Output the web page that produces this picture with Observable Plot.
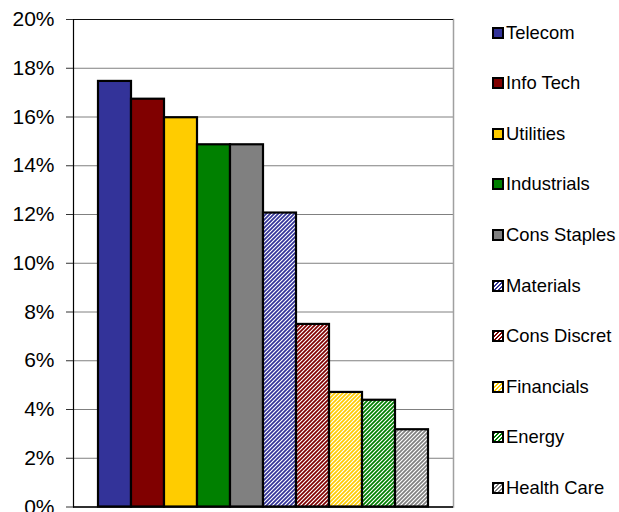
<!DOCTYPE html>
<html>
<head>
<meta charset="utf-8">
<script src="https://cdn.jsdelivr.net/npm/d3@7"></script>
<script src="https://cdn.jsdelivr.net/npm/@observablehq/plot@0.6"></script>
<style>
  body { margin: 0; background: #fff; font-family: "Liberation Sans", Arial, sans-serif; }
  #wrap { position: relative; width: 619px; height: 512px; overflow: hidden; }
  #legend { position: absolute; left: 492px; top: 7.5px; display: flex; flex-direction: column; }
  .item { height: 50.55px; display: flex; align-items: center; font-size: 18.4px; white-space: nowrap; color: #000; }
  .sw { width: 8px; height: 8px; border: 2px solid #000; margin-right: 2px; flex: none; }
</style>
</head>
<body>
<div id="wrap"><div id="legend"></div></div>
<script>
const sectors = ["Telecom", "Info Tech", "Utilities", "Industrials", "Cons Staples",
                 "Materials", "Cons Discret", "Financials", "Energy", "Health Care"];
const values = [17.46, 16.73, 15.97, 14.86, 14.86, 12.06, 7.49, 4.70, 4.38, 3.17];
const colors = ["#333399", "#800000", "#FFCC00", "#008000", "#808080",
                "#333399", "#800000", "#FFCC00", "#008000", "#808080"];
const hatched = [false, false, false, false, false, true, true, true, true, true];
const yTicks = [0, 2, 4, 6, 8, 10, 12, 14, 16, 18, 20];

const data = sectors.map((s, i) => ({sector: s, value: values[i], color: colors[i], hatched: hatched[i], idx: i}));
const fillOf = d => d.hatched ? `url(#hatch-${d.idx})` : d.color;

const chart = Plot.plot({
  width: 619,
  height: 512,
  marginLeft: 73,
  marginRight: 166,
  marginTop: 19,
  marginBottom: 5.5,
  style: { fontFamily: "'Liberation Sans', Arial, sans-serif", background: "#fff", color: "#000", overflow: "hidden" },
  x: { type: "band", domain: sectors, paddingInner: 0, paddingOuter: 0.73, axis: null },
  y: { domain: [0, 20], label: null },
  color: { type: "identity" },
  marks: [
    Plot.ruleY(yTicks, { stroke: "#808080", strokeWidth: 1 }),
    Plot.frame({ anchor: "right", stroke: "#a0a0a0", strokeWidth: 1.5 }),
    Plot.ruleY([20], { stroke: "#111", strokeWidth: 1.2 }),
    Plot.barY(data, { x: "sector", y: "value", fill: fillOf, stroke: "#000", strokeWidth: 2.2 }),
    Plot.ruleY([0], { stroke: "#000", strokeWidth: 1.5 }),
    Plot.frame({ anchor: "left", stroke: "#000", strokeWidth: 1.2 }),
    Plot.axisY({ ticks: yTicks, tickFormat: d => d + "%", tickSize: 7, tickPadding: 12, fontSize: 21, stroke: "#333", label: null })
  ]
});

// hatch patterns
const defs = d3.select(chart).insert("defs", ":first-child");
data.filter(d => d.hatched).forEach(d => {
  const p = defs.append("pattern")
    .attr("id", `hatch-${d.idx}`)
    .attr("patternUnits", "userSpaceOnUse")
    .attr("width", 4).attr("height", 4);
  p.append("rect").attr("width", 4).attr("height", 4).attr("fill", "#fff");
  p.append("path")
    .attr("d", "M0,4 L4,0 M-1,1 L1,-1 M3,5 L5,3")
    .attr("stroke", d.color).attr("stroke-width", 1.7);
});

document.getElementById("wrap").prepend(chart);

// legend
const legend = d3.select("#legend");
data.forEach(d => {
  const it = legend.append("div").attr("class", "item");
  const bg = d.hatched
    ? `repeating-linear-gradient(135deg, ${d.color} 0 1.3px, #fff 1.3px 2.8px)`
    : d.color;
  it.append("div").attr("class", "sw").style("background", bg);
  it.append("span").text(d.sector);
});
</script>
</body>
</html>
